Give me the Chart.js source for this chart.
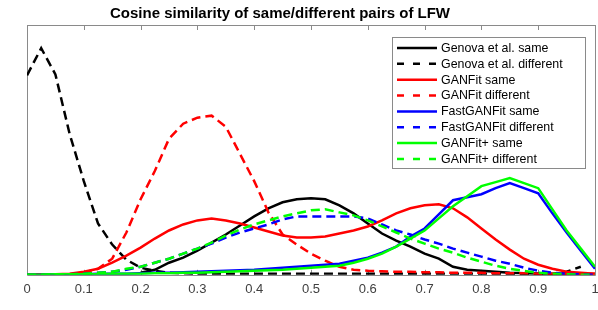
<!DOCTYPE html>
<html>
<head>
<meta charset="utf-8">
<script src="https://cdn.jsdelivr.net/npm/chart.js@4.4.0/dist/chart.umd.min.js"></script>
<style>
  html, body { margin: 0; padding: 0; background: #fff; }
  #wrap { width: 598px; height: 310px; }
</style>
</head>
<body>
<div id="wrap"><canvas id="chart"></canvas></div>
<script>
// cosine similarity values (x) and density estimates
const xValues = [0, 0.025, 0.05, 0.075, 0.1, 0.125, 0.15, 0.175, 0.2, 0.225,
  0.25, 0.275, 0.3, 0.325, 0.35, 0.375, 0.4, 0.425, 0.45, 0.475,
  0.5, 0.525, 0.55, 0.575, 0.6, 0.625, 0.65, 0.675, 0.7, 0.725,
  0.75, 0.775, 0.8, 0.825, 0.85, 0.875, 0.9, 0.925, 0.95, 0.975, 1];
const tickValues = [0, 0.1, 0.2, 0.3, 0.4, 0.5, 0.6, 0.7, 0.8, 0.9, 1];

const genovaSame = [null, null, null, null, null, null, null, null, 0.04, 0.10,
  0.24, 0.34, 0.48, 0.64, 0.80, 0.98, 1.16, 1.32, 1.44, 1.50,
  1.52, 1.50, 1.38, 1.22, 1.02, 0.82, 0.68, 0.56, 0.42, 0.32,
  0.16, 0.10, 0.08, 0.06, 0.04, 0.03, 0.02, 0.01, 0.01, 0.01, null];
const genovaDiff = [3.96, 4.50, 3.98, 2.80, 1.86, 1.02, 0.60, 0.30, 0.14, 0.08,
  0.04, 0.03, 0.02, 0.02, 0.02, 0.02, 0.02, 0.02, 0.02, 0.02,
  0.02, 0.02, 0.02, 0.02, 0.02, 0.02, 0.02, 0.02, 0.02, 0.02,
  0.02, 0.02, 0.02, 0.02, 0.02, 0.02, 0.02, 0.02, 0.06, 0.16, null];
const ganfitSame = [0.01, 0.01, 0.01, 0.02, 0.06, 0.12, 0.24, 0.38, 0.54, 0.72,
  0.88, 1.00, 1.08, 1.12, 1.08, 1.02, 0.94, 0.86, 0.78, 0.74,
  0.74, 0.76, 0.82, 0.88, 0.96, 1.08, 1.22, 1.32, 1.38, 1.40,
  1.32, 1.14, 0.92, 0.70, 0.50, 0.32, 0.20, 0.12, 0.06, 0.04, 0.02];
const ganfitDiff = [0, 0, 0, 0.01, 0.04, 0.12, 0.32, 0.84, 1.50, 2.06,
  2.70, 3.00, 3.12, 3.16, 2.94, 2.40, 1.86, 1.24, 0.80, 0.60,
  0.42, 0.28, 0.16, 0.10, 0.08, 0.07, 0.06, 0.06, 0.05, 0.05,
  0.04, 0.04, 0.04, 0.03, 0.03, 0.03, 0.02, 0.02, 0.02, 0.02, 0.02];
const fastSame = [0, 0, 0.01, 0.01, 0.01, 0.02, 0.02, 0.02, 0.03, 0.04,
  0.04, 0.05, 0.06, 0.07, 0.08, 0.09, 0.10, 0.12, 0.14, 0.16,
  0.18, 0.20, 0.22, 0.28, 0.34, 0.44, 0.56, 0.76, 0.92, 1.20,
  1.48, 1.54, 1.60, 1.72, 1.82, 1.72, 1.62, 1.22, 0.84, 0.48, 0.12];
const fastDiff = [0, 0, 0.01, 0.01, 0.02, 0.04, 0.06, 0.10, 0.16, 0.24,
  0.32, 0.42, 0.52, 0.62, 0.74, 0.84, 0.92, 1.00, 1.10, 1.16,
  1.16, 1.16, 1.16, 1.16, 1.12, 1.00, 0.88, 0.80, 0.70, 0.62,
  0.52, 0.44, 0.36, 0.28, 0.22, 0.14, 0.08, 0.04, 0.02, 0.01, 0];
const plusSame = [0, 0, 0.01, 0.01, 0.01, 0.01, 0.02, 0.02, 0.02, 0.03,
  0.03, 0.04, 0.04, 0.05, 0.06, 0.07, 0.08, 0.09, 0.10, 0.12,
  0.14, 0.16, 0.18, 0.24, 0.32, 0.42, 0.56, 0.72, 0.88, 1.12,
  1.36, 1.56, 1.76, 1.84, 1.92, 1.82, 1.72, 1.30, 0.88, 0.52, 0.16];
const plusDiff = [0, 0, 0.01, 0.01, 0.02, 0.04, 0.06, 0.12, 0.16, 0.24,
  0.32, 0.42, 0.52, 0.64, 0.78, 0.90, 1.00, 1.08, 1.16, 1.22,
  1.28, 1.30, 1.24, 1.18, 1.08, 0.96, 0.84, 0.72, 0.62, 0.52,
  0.44, 0.34, 0.26, 0.18, 0.12, 0.08, 0.04, 0.02, 0.01, 0, 0];

const seriesNames = ['Genova et al. same', 'Genova et al. different', 'GANFit same', 'GANFit different',
  'FastGANFit same', 'FastGANFit different', 'GANFit+ same', 'GANFit+ different'];
const seriesValues = [genovaSame, genovaDiff, ganfitSame, ganfitDiff, fastSame, fastDiff, plusSame, plusDiff];
const seriesColors = ['#000000', '#000000', '#ff0000', '#ff0000', '#0000ff', '#0000ff', '#00ff00', '#00ff00'];

const FONT = '"Liberation Sans", Arial, Helvetica, sans-serif';
const PLOT_DASH = [9, 5];
const LEGEND_DASH = [7, 9];

const datasets = seriesNames.map((name, i) => ({
    label: name,
    data: xValues.map((x, j) => ({ x: x, y: seriesValues[i][j] })),
    borderColor: seriesColors[i],
    borderWidth: 2.5,
    borderDash: i % 2 === 1 ? PLOT_DASH : [],
    pointRadius: 0,
    tension: 0,
    fill: false,
    spanGaps: false,
    order: seriesNames.length - i // later series sit on top, as in the figure
}));

// axes box with inward ticks, legend box and title
const matlabLook = {
    id: 'matlabLook',
    beforeDatasetsDraw(chart) {
        const { ctx, chartArea: a, scales: { x } } = chart;
        ctx.save();
        ctx.strokeStyle = '#8a8a8a';
        ctx.lineWidth = 1;
        ctx.beginPath();
        ctx.rect(Math.round(a.left) + 0.5, Math.round(a.top) + 0.5,
            Math.round(a.right - a.left), Math.round(a.bottom - a.top));
        tickValues.forEach(v => {
            const px = Math.round(x.getPixelForValue(v)) + 0.5;
            ctx.moveTo(px, a.top);
            ctx.lineTo(px, a.top + 5);
            ctx.moveTo(px, a.bottom);
            ctx.lineTo(px, a.bottom - 5);
        });
        ctx.stroke();
        ctx.restore();
    },
    afterDraw(chart) {
        const ctx = chart.ctx;
        ctx.save();

        // legend
        const box = { left: 392, top: 37, right: 585, bottom: 168 };
        ctx.fillStyle = '#ffffff';
        ctx.fillRect(box.left, box.top, box.right - box.left, box.bottom - box.top);
        ctx.strokeStyle = '#8a8a8a';
        ctx.lineWidth = 1;
        ctx.strokeRect(box.left + 0.5, box.top + 0.5, box.right - box.left, box.bottom - box.top);
        ctx.font = '12.4px ' + FONT;
        ctx.textBaseline = 'middle';
        ctx.textAlign = 'left';
        chart.data.datasets.forEach((ds, i) => {
            const y = 48 + i * 15.85;
            ctx.strokeStyle = ds.borderColor;
            ctx.lineWidth = 2.5;
            ctx.setLineDash(i % 2 === 1 ? LEGEND_DASH : []);
            ctx.beginPath();
            ctx.moveTo(397, y);
            ctx.lineTo(437, y);
            ctx.stroke();
            ctx.setLineDash([]);
            ctx.fillStyle = '#000000';
            ctx.fillText(ds.label, 441, y + 0.5);
        });

        // title
        ctx.font = 'bold 15px ' + FONT;
        ctx.textAlign = 'center';
        ctx.fillStyle = '#000000';
        ctx.fillText('Cosine similarity of same/different pairs of LFW', 280, 14);
        ctx.restore();
    }
};

new Chart(document.getElementById('chart'), {
    type: 'line',
    data: { datasets: datasets },
    options: {
        responsive: true,
        maintainAspectRatio: false,
        animation: false,
        layout: {
            autoPadding: false,
            padding: { left: 27, right: 3, top: 25, bottom: 5.6 }
        },
        plugins: {
            legend: { display: false },
            title: { display: false },
            tooltip: { enabled: false }
        },
        scales: {
            x: {
                type: 'linear',
                min: 0,
                max: 1,
                afterBuildTicks: scale => {
                    scale.ticks = tickValues.map(v => ({ value: v }));
                },
                afterFit: scale => {
                    // let the end labels hang past the plot edge like in the figure
                    scale.paddingLeft = 0;
                    scale.paddingRight = 0;
                },
                grid: { display: false, drawTicks: false },
                border: { display: false },
                ticks: {
                    padding: 7,
                    maxRotation: 0,
                    autoSkip: false,
                    color: '#404040',
                    font: { family: FONT, size: 13 },
                    callback: v => String(Number(v.toFixed(1)))
                }
            },
            y: {
                display: false,
                min: 0,
                max: 4.96
            }
        }
    },
    plugins: [matlabLook]
});
</script>
</body>
</html>
